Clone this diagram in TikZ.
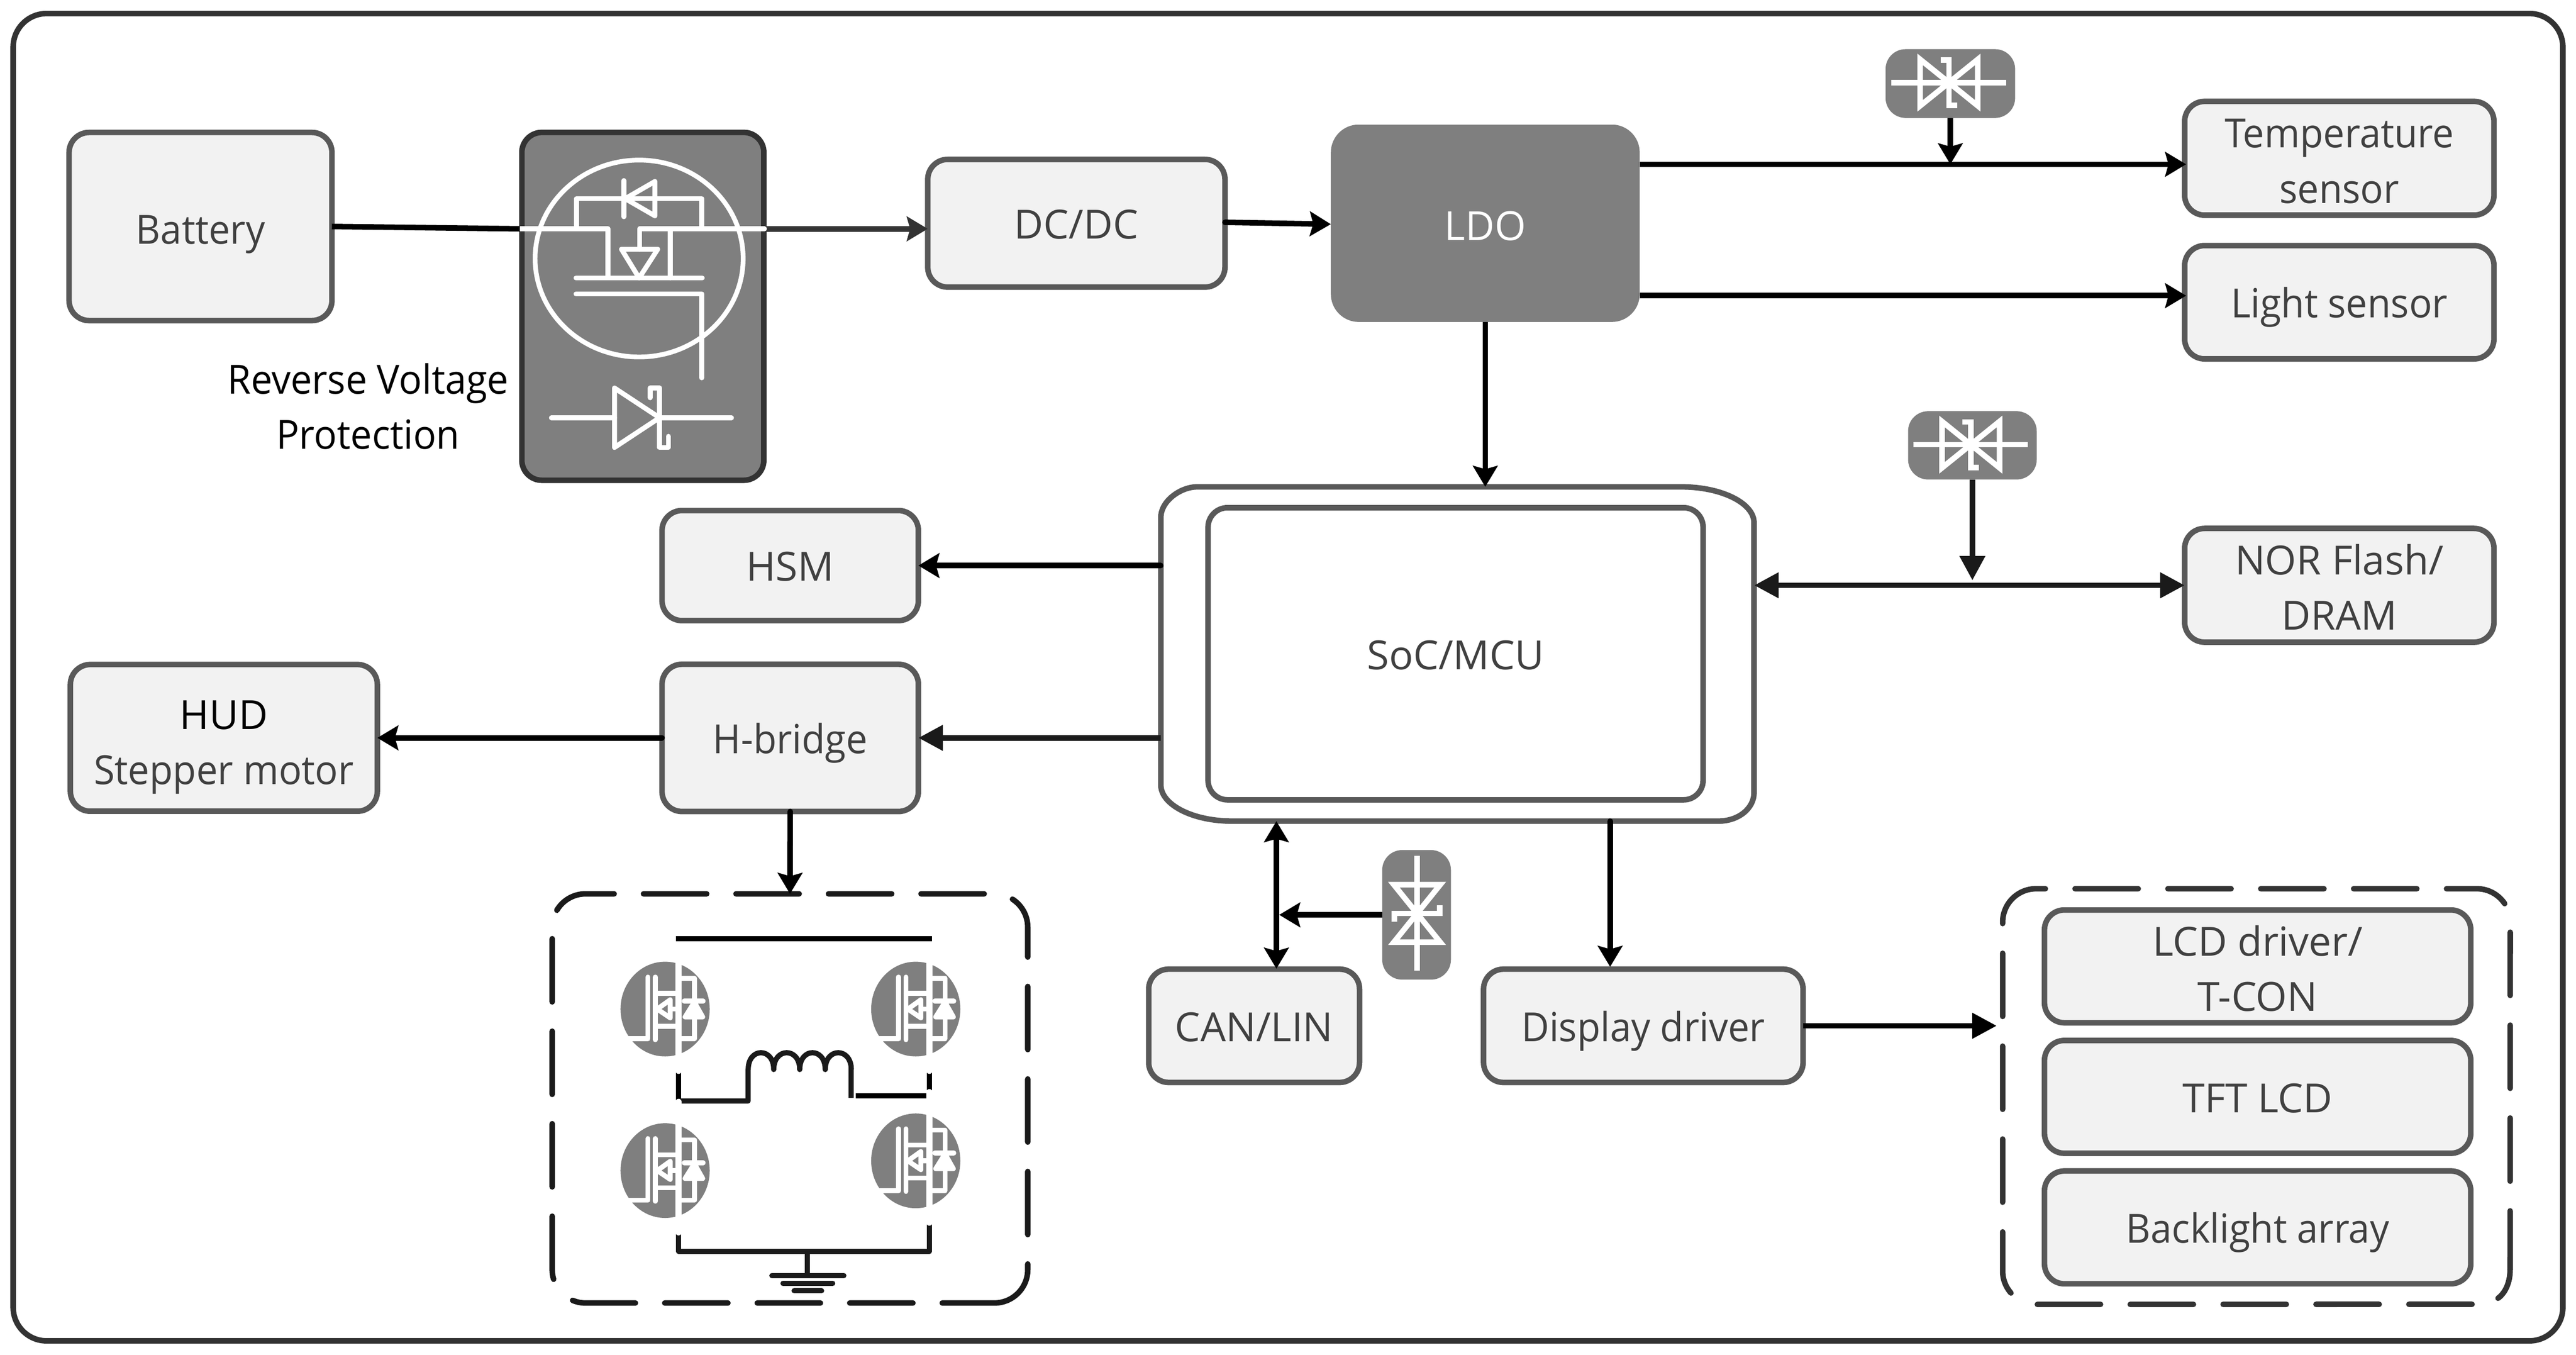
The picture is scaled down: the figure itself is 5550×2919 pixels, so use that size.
\documentclass[tikz,border=0pt]{standalone}
\usepackage{fontspec}
\setmainfont{Open Sans}[FakeStretch=0.95]
\newfontfamily\capsfont{Open Sans}
\usepackage{xcolor}
\usetikzlibrary{arrows.meta,calc,positioning}
\definecolor{panefill}{HTML}{F2F2F2}
\definecolor{edgegrey}{HTML}{595959}
\definecolor{darkfill}{HTML}{7F7F7F}
\definecolor{darkedge}{HTML}{333333}
\definecolor{softblack}{HTML}{1A1A1A}
\definecolor{labelgrey}{HTML}{404040}
\tikzset{
  oneline/.style={text height=19pt,text depth=0pt},
  twoline/.style={text height=54.8pt,text depth=0pt},
  caps/.style={font=\capsfont\fontsize{24.6}{33.8}\selectfont},
  blockbox/.style={draw=edgegrey,fill=panefill,line width=3.4pt,rounded corners=.43cm,text=labelgrey,align=center,inner sep=0pt,outer sep=0pt},
  darkbox/.style={fill=darkfill,rounded corners=.43cm,inner sep=0pt,outer sep=0pt},
  groupbox/.style={draw=darkedge,line width=3.4pt,rounded corners=.72cm,line cap=round,dash pattern=on 38.7pt off 18.2pt},
  groupspot/.style={inner sep=0pt,outer sep=0pt},
  wire/.style={line width=3.4pt,draw=black},
  flatwire/.style={line width=3.4pt,draw=softblack,>={Stealth[length=15pt,width=15pt,inset=0pt]}},
  whiteline/.style={draw=white,line width=3pt,line cap=round,line join=round},
  tvsline/.style={draw=white,line width=3.4pt},
  coilline/.style={draw=softblack,line width=3.2pt,line cap=round,line join=round}
}
% white TVS symbol
\newcommand{\tvssym}[3]{%
  \begin{scope}[shift={(#1,#2)},rotate=#3]
    \draw[tvsline] (-124,0) -- (123,0);
    \draw[tvsline] (-62,-50) -- (-62,50) -- (62,-50) -- (62,50) -- cycle;
    \draw[tvsline] (-18,-49) -- (0,-49) -- (0,49) -- (18,49);
  \end{scope}}
% MOSFET in a grey disc
\newcommand{\fetsym}[2]{%
  \begin{scope}[shift={(#1,#2)}]
    \fill[darkfill] (0,0) ellipse [x radius=.96cm,y radius=1.02cm];
    \draw[whiteline,line width=3.8pt] (29,-148) -- (29,133);
    \draw[whiteline] (-78,64) -- (-37,64) -- (-37,-69);
    \draw[whiteline] (-21,-69) -- (-21,66);
    \draw[whiteline] (-21,-34) -- (29,-34);
    \draw[whiteline] (-21,37) -- (29,37);
    \draw[whiteline] (-17,0) -- (11,-20) -- (11,19) -- cycle;
    \draw[whiteline] (11,0) -- (29,0);
    \draw[whiteline] (29,-66) -- (63,-66) -- (63,64) -- (29,64);
    \draw[whiteline] (41,-17) -- (82,-17);
    \draw[whiteline,fill=white] (63,-15) -- (43,17) -- (81,17) -- cycle;
  \end{scope}}

\begin{document}
\begin{tikzpicture}[x=.01cm,y=-.01cm,>={Stealth[length=12.8pt,width=15pt,inset=2pt]},
    every node/.style={font=\fontsize{24.6}{33.8}\selectfont}]
  \useasboundingbox (0,0) rectangle (5550,2919);
  \node[draw=darkedge,line width=3.4pt,rounded corners=.72cm,minimum width=54.9cm,minimum height=28.58cm,inner sep=0pt] (outline) at (2775,1459) {};
%
  \node[blockbox,oneline,text height=21.5pt,minimum width=5.66cm,minimum height=4.05cm] (batt) at (432,488) {Battery};
  \node[darkbox,draw=darkedge,line width=3.4pt,minimum width=5.21cm,minimum height=7.49cm] (rev) at (1385,660) {};
  \node[text=black,align=center,inner sep=0pt] (revlab) at (793,876) {Reverse Voltage\\Protection};
  \node[blockbox,oneline,caps,minimum width=6.40cm,minimum height=2.75cm] (dcdc) at (2319,481) {DC/DC};
  \node[darkbox,oneline,caps,text height=21pt,rounded corners=.6cm,text=white,minimum width=6.65cm,minimum height=4.25cm,right=2.28cm of dcdc] (ldo) {LDO};
  \node[blockbox,twoline,minimum width=6.66cm,minimum height=2.45cm] (temp) at (5040,341) {Temperature\\sensor};
  \node[blockbox,oneline,minimum width=6.66cm,minimum height=2.44cm,below=.655cm of temp] (light) {Light sensor};
  \node[blockbox,twoline,caps,minimum width=6.66cm,minimum height=2.45cm] (nor) at (5040,1261) {NOR Flash/\\DRAM};
  \node[blockbox,oneline,caps,minimum width=5.52cm,minimum height=2.37cm] (hsm) at (1702.5,1218.5) {HSM};
  \node[blockbox,oneline,minimum width=5.52cm,minimum height=3.17cm,below=.94cm of hsm] (hbr) {H-bridge};
  \node[blockbox,twoline,text height=57pt,minimum width=6.61cm,minimum height=3.16cm,left=6.13cm of hbr] (hud) {{\capsfont\color{black}HUD}\\Stepper motor};
  \node[blockbox,oneline,caps,minimum width=4.54cm,minimum height=2.44cm] (can) at (2702,2210) {CAN/LIN};
  \node[blockbox,oneline,minimum width=6.88cm,minimum height=2.44cm,right=2.67cm of can] (disp) {Display driver};
  \node[blockbox,twoline,caps,minimum width=9.18cm,minimum height=2.43cm] (lcd) at (4864,2082) {LCD driver/\\T-CON};
  \node[blockbox,oneline,caps,minimum width=9.18cm,minimum height=2.43cm,below=.38cm of lcd] (tft) {TFT LCD};
  \node[blockbox,oneline,minimum width=9.18cm,minimum height=2.43cm,below=.38cm of tft] (back) {Backlight array};
%
  % dashed groups, started where their dashes join
  \node[groupspot,minimum width=10.93cm,minimum height=8.95cm] (dispgroup) at (4861.5,2362.5) {};
  \coordinate (dgstart) at (5326,2810);
  \coordinate (dgtail) at (5408,2735);
  \coordinate (dgend) at (5382,2797);
  \draw[groupbox] (dgstart) -- (dispgroup.south west) -- (dispgroup.north west) -- (dispgroup.north east) -- (dgtail);
  \draw[draw=darkedge,line width=3.4pt,line cap=round] (dgtail) .. controls (5408,2763) and (5398,2785) .. (dgend);
  \node[groupspot,minimum width=10.24cm,minimum height=8.81cm] (hgroup) at (1702,2366.5) {};
  \draw[groupbox,draw=softblack,dash pattern=on 38.7pt off 17.97pt,dash phase=6.8pt] ([xshift=-.72cm]hgroup.south east) -- (hgroup.south west) -- (hgroup.north west) -- (hgroup.north east) -- (hgroup.south east) -- ([xshift=-.72cm]hgroup.south east);
%
  % SoC outline and its inner box
  \node[minimum width=12.78cm,minimum height=7.2cm,inner sep=0pt,outer sep=0pt] (socout) at (3140,1409) {};
  \draw[draw=edgegrey,line width=3.4pt] (2501,1115) .. controls (2501,1079) and (2544,1049) .. (2579,1049) -- (3623,1049)
      .. controls (3709,1049) and (3779,1084) .. (3779,1126) -- (3779,1708) .. controls (3779,1742) and (3745,1769) .. (3703,1769)
      -- (2654,1769) .. controls (2570,1769) and (2501,1734) .. (2501,1691) -- cycle;
  \node[oneline,caps,draw=edgegrey,line width=3.4pt,rounded corners=.42cm,minimum width=10.66cm,minimum height=6.29cm,text=labelgrey,inner sep=0pt,outer sep=0pt] (soc) at (3136,1408.5) {SoC/MCU};
%
  \node[darkbox,minimum width=2.79cm,minimum height=1.48cm] (tvsA) at (4202,180) {};
  \node[darkbox,minimum width=2.77cm,minimum height=1.47cm] (tvsB) at (4249.5,959.5) {};
  \node[darkbox,minimum width=1.48cm,minimum height=2.79cm] (tvsC) at (3052,1971) {};
  \tvssym{4199}{178}{0}
  \tvssym{4246}{958}{0}
  \tvssym{3053}{1968}{-90}
%
  \coordinate (revin) at (1120,493);
  \coordinate (revout) at (1647,493);
  \coordinate (tempin) at (4710,354);
  \coordinate (lightin) at (4710,637);
  \coordinate (dispin) at (3469,2083);
  \coordinate (canin) at (2750,2087);
  \coordinate (cantap) at (2756,1971);
  \coordinate (dispout) at (4302,2209);
  \draw[wire] (batt.east) -- (revin);
  \draw[wire,draw=darkedge,->] (revout) -- (revout -| dcdc.west);
  \draw[wire,line cap=round,->] ([yshift=.02cm]dcdc.east) -- ([yshift=-.02cm]ldo.west);
  \draw[wire,->] (ldo.east |- tempin) -- (tempin);
  \draw[wire,->] (ldo.east |- lightin) -- (lightin);
  \draw[wire,->] (ldo.south) -- (ldo.south |- socout.north);
  \draw[wire,->] (tvsA.south) -- (tvsA.south |- tempin);
  \draw[flatwire,<->] (socout.east |- nor.west) -- (nor.west);
  \draw[flatwire,shorten >=3pt,->] (tvsB.south) -- (tvsB.south |- nor.west);
  \draw[wire,line cap=round,->] (socout.west |- hsm.east) -- (hsm.east);
  \draw[flatwire,->] (socout.west |- hbr.east) -- (hbr.east);
  \draw[wire,line cap=round,->] (hbr.west) -- (hud.east |- hbr.west);
  \draw[wire,line cap=round,->] (hbr.south) -- (hgroup.north);
  \draw[wire,<->] (socout.south -| canin) -- (canin);
  \draw[wire,->] (tvsC.west) -- (cantap);
  \draw[wire,line cap=round,->] (socout.south -| dispin) -- (dispin);
  \draw[wire,>={Stealth[length=15pt,width=15pt,inset=0pt]},->] (disp.east) -- (disp.east -| dispout);
%
  % protection symbols
  \draw[whiteline,line width=2.9pt] (1377,557) ellipse [x radius=2.24cm,y radius=2.12cm];
  \draw[whiteline,line cap=butt] (1120,493) -- (1310,493) -- (1310,599);
  \draw[whiteline] (1647,493) -- (1378,493) -- (1378,537);
  \draw[whiteline] (1444,493) -- (1444,599);
  \draw[whiteline] (1339,537) -- (1417,537) -- (1377,599) -- cycle;
  \draw[whiteline] (1241,599) -- (1513,599);
  \draw[whiteline] (1241,633) -- (1512,633) -- (1512,814);
  \draw[whiteline] (1242,493) -- (1242,428) -- (1512,428) -- (1512,493);
  \draw[whiteline] (1344,389) -- (1344,467);
  \draw[whiteline] (1347,428) -- (1411,391) -- (1411,465) -- cycle;
  \draw[whiteline] (1188,900) -- (1324,900);
  \draw[whiteline] (1421,900) -- (1576,900);
  \draw[whiteline] (1324,836) -- (1421,900) -- (1324,964) -- cycle;
  \draw[whiteline] (1401,857) -- (1401,836) -- (1421,836) -- (1421,964) -- (1440,964) -- (1440,940);
%
  % bridge wiring
  \draw[coilline,line cap=butt,draw=black] (1462,2022) -- (1462,2372);
  \draw[coilline,line cap=butt] (1462,2372) -- (1612,2372) -- (1612,2304);
  \foreach \xa/\xb in {1612/1667,1667/1723,1723/1778,1778/1834}
    \draw[coilline] (\xa,2304) .. controls (\xa,2256) and (\xb,2256) .. (\xb,2304);
  \draw[coilline,line cap=butt] (1834,2304) -- (1834,2365);
  \draw[coilline,line cap=butt,draw=black] (1844,2361) -- (2002,2361) -- (2002,2022);
  \draw[coilline,line cap=butt] (1462,2372) -- (1462,2696) -- (2002,2696) -- (2002,2361);
  \draw[coilline,line cap=butt] (1739,2696) -- (1739,2748);
  \draw[coilline] (1663,2748) -- (1818,2748);
  \draw[coilline] (1687,2765) -- (1794,2765);
  \draw[coilline] (1711,2781) -- (1770,2781);
  \fetsym{1433}{2174}
  \fetsym{1973}{2174}
  \fetsym{1433}{2522}
  \fetsym{1973}{2501}
  \draw[coilline,line cap=butt,draw=black] (1456,2022) -- (2008,2022);
\end{tikzpicture}
\end{document}
